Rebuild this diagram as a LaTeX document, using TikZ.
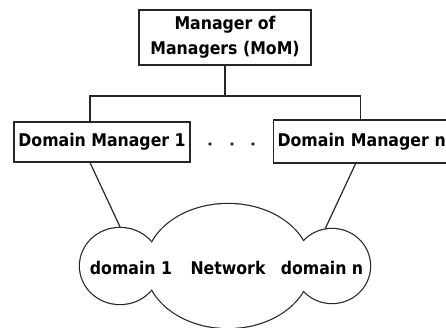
\documentclass[tikz,border=0pt]{standalone}
\usepackage{fontspec}
\setmainfont{DejaVu Sans Condensed}
\usetikzlibrary{shapes.geometric}
\begin{document}
\begin{tikzpicture}[x=1pt,y=-1pt,
  line width=1.2pt, draw=black!85,
  boxnode/.style={draw=black!85, line width=1.2pt, rectangle, inner sep=0pt, font=\bfseries\fontsize{17.5}{25}\selectfont},
  lobe/.style={ellipse, inner sep=0pt, draw=black!85, line width=2.4pt},
  cloudtext/.style={font=\bfseries\fontsize{17.5}{19}\selectfont, inner sep=0pt},
  dotmark/.style={circle, fill=black!85, inner sep=0pt, minimum size=3.6pt}]
\useasboundingbox (0,0) rectangle (446,328);
\clip (0,0) rectangle (446,328);
% boxes
\node[boxnode, minimum width=172pt, minimum height=55pt, align=center] (mom) at (225,37.5) {Manager of\\Managers (MoM)};
\node[boxnode, minimum width=176pt, minimum height=40pt] (d1) at (102,142) {Domain Manager 1};
\node[boxnode, minimum height=43pt, text width=180pt, inner xsep=4pt, align=left, anchor=west] (dn) at (273,141.5) {Domain Manager n};
% dots
\node[dotmark] (p1) at (210,144) {};
\node[dotmark] (p2) at (232,144) {};
\node[dotmark] (p3) at (253,144) {};
% tree connectors
\coordinate (j) at (225,96);
\draw (mom.south) -- (j);
\draw ([xshift=-12pt]d1.north) |- (j) -| ([xshift=-7pt]dn.north);
% cloud
\node[lobe, minimum width=164pt, minimum height=124pt] (c) at (228,266) {};
\node[lobe, minimum width=80pt, minimum height=76pt] (l) at (120,266) {};
\node[lobe, minimum width=76pt, minimum height=74pt] (r) at (332,266) {};
\fill[white] (c.center) ellipse [x radius=82, y radius=62]
             (l.center) ellipse [x radius=40, y radius=38]
             (r.center) ellipse [x radius=38, y radius=37];
\draw ([xshift=-12pt]d1.south) -- (l.north);
\draw ([xshift=-12pt]dn.south) -- (r.100);
\node[cloudtext] (t1) at (131,268) {domain 1};
\node[cloudtext] (t2) at (228,268) {Network};
\node[cloudtext] (t3) at (322,268) {domain n};
\end{tikzpicture}
\end{document}
